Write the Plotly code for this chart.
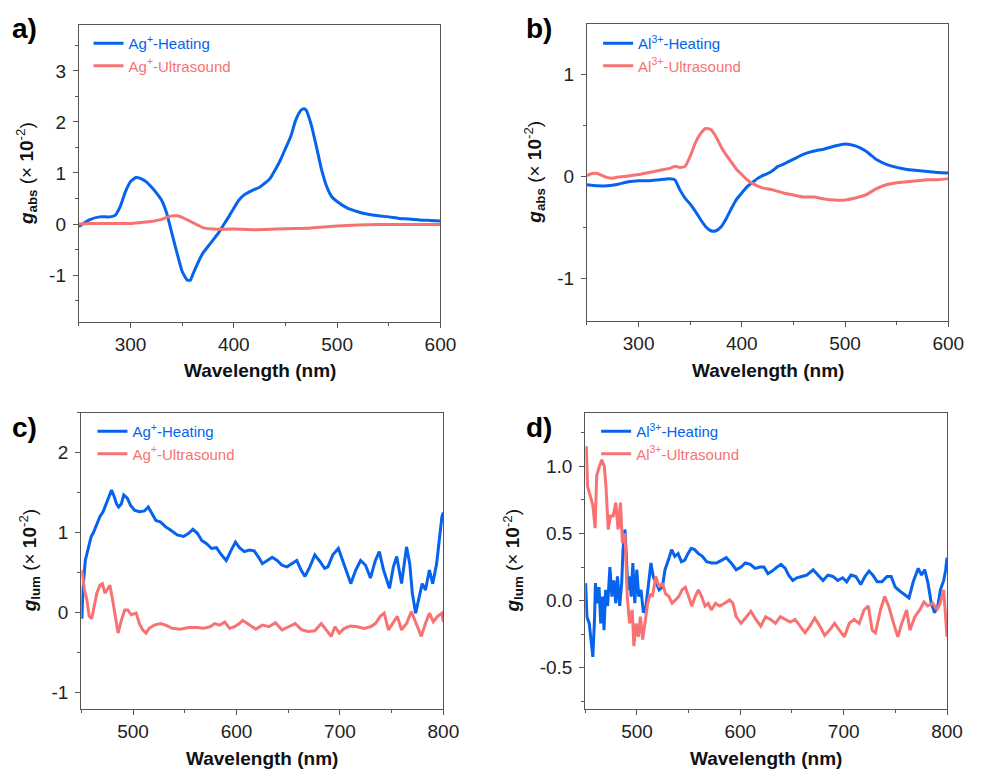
import plotly.graph_objects as go

# ---------------- data ----------------
# Panel a: g_abs, Ag+
a_wl_heat = [250,260,270,280,285,290,295,300,305,310,315,320,325,330,335,340,345,350,355,358,
             360,365,370,375,380,385,390,395,400,405,410,415,420,425,430,435,440,445,450,455,
             460,465,468,470,475,480,485,490,495,500,510,520,530,540,550,560,570,580,590,600]
a_heat = [-0.05,0.08,0.14,0.14,0.17,0.34,0.63,0.83,0.91,0.89,0.83,0.73,0.61,0.47,0.21,-0.18,-0.57,-0.93,-1.10,-1.10,
          -1.0,-0.77,-0.57,-0.44,-0.31,-0.18,-0.02,0.14,0.31,0.47,0.57,0.63,0.68,0.72,0.80,0.89,1.06,1.25,1.48,1.71,
          2.04,2.23,2.26,2.23,1.94,1.51,1.06,0.73,0.53,0.44,0.31,0.24,0.19,0.16,0.14,0.11,0.10,0.08,0.07,0.06]
a_wl_us = [250,260,270,280,290,300,310,320,330,335,340,345,350,355,360,365,370,375,380,400,
           420,440,460,470,480,500,520,540,560,580,600]
a_us = [0.0,0.01,0.01,0.01,0.01,0.01,0.03,0.05,0.09,0.13,0.16,0.16,0.13,0.08,0.03,-0.02,-0.07,-0.09,-0.10,-0.10,
        -0.11,-0.10,-0.09,-0.085,-0.07,-0.04,-0.02,-0.01,-0.01,-0.01,-0.01]

# Panel b: g_abs, Al3+
b_wl_heat = [250,260,270,280,290,300,310,320,330,335,340,345,350,355,360,365,370,375,380,385,
             390,395,400,405,410,415,420,425,430,435,440,450,460,470,480,490,500,510,520,530,
             540,550,560,570,580,590,600]
b_heat = [-0.08,-0.09,-0.09,-0.075,-0.05,-0.04,-0.04,-0.03,-0.02,-0.03,-0.13,-0.21,-0.27,-0.34,-0.42,-0.49,-0.53,-0.53,-0.49,-0.41,
          -0.31,-0.22,-0.16,-0.10,-0.06,-0.02,0.01,0.03,0.06,0.10,0.12,0.17,0.22,0.25,0.27,0.30,0.32,0.30,0.25,0.17,
          0.12,0.09,0.07,0.06,0.05,0.04,0.035]
b_wl_us = [250,255,260,265,270,275,280,290,300,310,320,330,335,340,345,350,355,360,365,370,
           375,380,385,390,395,400,405,410,415,420,430,440,450,460,470,480,490,500,510,520,
           530,540,550,560,570,580,590,600]
b_us = [0.01,0.03,0.03,0.01,-0.01,-0.015,-0.005,0.005,0.02,0.04,0.06,0.08,0.10,0.09,0.10,0.20,0.33,0.42,0.47,0.46,
        0.39,0.29,0.21,0.14,0.07,0.02,-0.03,-0.065,-0.09,-0.11,-0.13,-0.16,-0.18,-0.20,-0.20,-0.22,-0.23,-0.23,-0.21,-0.18,
        -0.12,-0.08,-0.06,-0.05,-0.04,-0.03,-0.03,-0.02]

# Panel c: g_lum, Ag+
c_wl_heat = [450.5,451.5,453.8,457.0,459.5,461.7,464.9,468.0,471.0,474.4,476.6,479.2,481.7,484.0,486.0,488.7,491.0,494.4,497.6,501.4,
             506.0,511.0,514.7,517.8,522.0,526.7,531.5,536.2,542.6,548.9,553.7,557.8,562.2,566.4,571.1,575.9,580.6,585.4,590.1,594.9,
             599.0,602.8,607.6,612.4,617.1,621.9,625.0,629.8,634.5,639.3,644.0,648.8,653.5,658.3,662.4,666.2,670.9,675.7,680.5,685.2,
             688.4,693.1,698.5,702.6,707.4,710.5,715.3,720.0,724.8,729.5,734.3,738.1,742.2,747.9,751.7,754.9,759.6,764.4,767.5,770.0,
             773.2,776.4,779.5,782.7,786.5,789.7,793.5,796.0,798.6,800.0]
c_heat = [-0.08,0.28,0.65,0.82,0.95,1.00,1.11,1.20,1.26,1.38,1.45,1.53,1.45,1.36,1.32,1.36,1.47,1.43,1.34,1.28,
          1.26,1.27,1.32,1.24,1.15,1.13,1.07,1.03,0.97,0.95,0.99,1.04,0.99,0.90,0.86,0.80,0.81,0.72,0.65,0.78,
          0.88,0.81,0.76,0.78,0.77,0.68,0.61,0.65,0.69,0.65,0.59,0.57,0.61,0.65,0.53,0.45,0.57,0.72,0.64,0.55,
          0.57,0.72,0.80,0.65,0.49,0.36,0.53,0.65,0.59,0.43,0.65,0.76,0.53,0.30,0.57,0.70,0.36,0.82,0.61,0.24,
          -0.01,0.20,0.36,0.28,0.53,0.36,0.61,0.90,1.20,1.25]
c_wl_us = [450.5,453.0,455.4,457.6,460.0,462.7,465.0,468.0,470.3,472.8,475.4,477.6,480.8,484.0,485.5,488.7,491.9,495.0,498.2,503.0,
           506.0,509.3,512.5,515.6,520.4,526.7,531.5,537.8,545.7,553.7,561.6,568.0,574.3,579.0,583.8,588.6,593.3,598.1,602.8,606.0,
           612.4,618.7,625.0,631.4,637.7,644.0,650.4,656.7,663.1,669.4,675.7,682.0,686.8,691.5,695.3,699.4,704.2,710.5,716.8,723.2,
           729.5,734.3,739.0,742.8,746.9,751.7,755.5,759.6,764.4,769.1,773.9,778.7,782.7,786.5,790.3,794.4,798.6,800.0]
c_us = [0.53,0.28,0.15,-0.05,-0.08,0.11,0.24,0.34,0.36,0.24,0.30,0.34,0.11,-0.14,-0.26,-0.10,0.03,0.03,-0.03,-0.01,
        -0.14,-0.22,-0.26,-0.20,-0.16,-0.14,-0.16,-0.20,-0.21,-0.19,-0.19,-0.20,-0.18,-0.14,-0.16,-0.12,-0.20,-0.18,-0.14,-0.10,
        -0.16,-0.21,-0.16,-0.18,-0.13,-0.22,-0.18,-0.14,-0.22,-0.24,-0.23,-0.14,-0.22,-0.30,-0.18,-0.26,-0.20,-0.17,-0.18,-0.20,
        -0.18,-0.14,-0.05,-0.01,-0.22,-0.12,-0.05,-0.22,-0.14,0.01,-0.14,-0.30,-0.14,-0.01,-0.12,-0.05,-0.01,-0.12]

# Panel d: g_lum, Al3+
d_wl_heat = [450.3,451.6,453.8,455.7,457.3,458.9,459.8,461.7,463.3,464.9,466.8,468.1,469.7,471.6,473.8,475.7,477.6,479.5,481.1,483.3,
             485.2,486.5,488.4,489.7,491.2,492.8,494.4,496.0,497.9,499.8,501.7,503.9,506.2,508.7,511.2,513.5,515.7,518.2,521.4,524.6,
             527.1,530.3,533.5,536.6,539.8,543.0,546.1,549.3,552.5,555.7,559.5,563.3,567.4,572.2,576.9,581.7,586.4,591.2,596.0,600.7,
             604.8,609.6,614.3,619.1,622.9,626.7,630.8,635.6,639.4,643.5,646.7,650.8,654.7,659.4,664.2,670.5,675.2,680.0,684.8,689.5,
             694.3,699.0,702.9,707.0,711.8,716.5,720.6,724.5,728.3,732.4,737.1,741.9,746.0,749.9,754.6,759.4,763.2,767.3,772.1,775.3,
             778.4,781.6,784.8,788.0,791.1,793.6,796.8,798.7,800.0]
d_heat = [0.13,-0.12,-0.17,-0.32,-0.42,-0.14,0.13,-0.02,0.10,-0.17,0.03,-0.22,0.08,-0.04,0.25,0.03,0.15,-0.02,0.18,-0.04,
          0.13,0.38,0.53,0.33,0.08,0.18,0.03,0.28,-0.02,0.23,0.03,0.08,-0.09,-0.04,0.13,0.28,0.18,0.13,0.08,0.10,
          0.23,0.30,0.38,0.33,0.35,0.29,0.30,0.35,0.39,0.38,0.35,0.33,0.29,0.28,0.28,0.30,0.32,0.28,0.23,0.25,
          0.28,0.27,0.24,0.25,0.25,0.20,0.22,0.25,0.27,0.24,0.19,0.15,0.17,0.18,0.19,0.23,0.19,0.15,0.19,0.18,
          0.15,0.17,0.14,0.19,0.18,0.12,0.18,0.22,0.19,0.14,0.14,0.18,0.18,0.10,0.07,0.04,0.02,0.14,0.24,0.19,
          0.23,0.13,-0.02,-0.09,-0.04,0.08,0.15,0.23,0.32]
d_wl_us = [451.0,452.2,454.8,457.3,459.5,461.0,463.6,465.9,468.4,470.0,472.2,474.4,477.0,479.5,481.7,484.0,485.9,488.4,490.6,492.8,
           495.4,497.0,499.2,501.4,503.3,505.5,507.7,510.3,512.8,515.0,518.2,521.4,524.6,527.7,530.9,534.0,537.3,540.4,543.6,546.8,
           550.0,553.0,556.3,559.4,562.6,565.8,569.0,572.0,576.0,580.0,584.8,589.6,592.8,596.0,600.7,605.5,610.2,615.0,619.8,624.5,
           629.3,634.0,638.8,643.5,648.3,653.0,657.8,662.6,667.3,672.0,676.9,681.6,686.4,691.2,695.9,700.7,705.4,710.2,715.0,719.7,
           723.8,727.6,730.8,735.6,739.7,743.5,748.3,752.4,756.2,760.9,764.1,768.9,773.6,777.7,781.5,786.3,790.4,793.4,796.8,798.4,
           800.0]
d_us = [1.15,0.85,0.78,0.71,0.54,0.93,1.00,1.05,1.00,0.85,0.53,0.63,0.63,0.73,0.53,0.73,0.43,0.50,0.03,-0.17,
        -0.07,-0.34,-0.17,-0.27,-0.12,-0.29,-0.17,-0.02,0.05,0.03,0.18,0.10,0.13,0.05,0.03,-0.02,0.005,0.03,0.08,0.10,
        0.03,-0.04,0.03,0.08,0.03,-0.04,-0.02,-0.07,-0.02,-0.04,-0.02,0.005,-0.02,-0.12,-0.17,-0.12,-0.08,-0.14,-0.19,-0.12,
        -0.14,-0.17,-0.12,-0.14,-0.16,-0.14,-0.19,-0.24,-0.19,-0.13,-0.19,-0.26,-0.22,-0.17,-0.22,-0.27,-0.17,-0.14,-0.17,-0.07,
        -0.04,-0.22,-0.24,-0.07,0.03,-0.04,-0.17,-0.27,-0.17,-0.07,-0.22,-0.12,-0.07,-0.01,-0.04,-0.02,-0.07,-0.02,0.08,-0.07,
        -0.27]

x_ticks_abs = [300, 400, 500, 600]
x_ticks_lum = [500, 600, 700, 800]
a_yticks = [-1, 0, 1, 2, 3]
b_yticks = [-1, 0, 1]
c_yticks = [-1, 0, 1, 2]
d_yticks = [-0.5, 0.0, 0.5, 1.0]
d_yticktext = ["-0.5", "0.0", "0.5", "1.0"]

BLUE = "#0563EE"
RED = "#F87272"
FONT = "Liberation Sans, Arial, sans-serif"

fig = go.Figure()

def lbl(color, ion, sup, method):
    return f'<span style="color:{color}">{ion}<sup>{sup}</sup>-{method}</span>'

panels = [
    ("x", "y", "legend", a_wl_heat, a_heat, a_wl_us, a_us, "Ag", "+", "spline"),
    ("x2", "y2", "legend2", b_wl_heat, b_heat, b_wl_us, b_us, "Al", "3+", "spline"),
    ("x3", "y3", "legend3", c_wl_heat, c_heat, c_wl_us, c_us, "Ag", "+", "linear"),
    ("x4", "y4", "legend4", d_wl_heat, d_heat, d_wl_us, d_us, "Al", "3+", "linear"),
]
for xa, ya, lg, xh, yh, xu, yu, ion, sup, shape in panels:
    fig.add_trace(go.Scatter(x=xh, y=yh, xaxis=xa, yaxis=ya, mode="lines", legend=lg,
                             line=dict(color=BLUE, width=3, shape=shape, smoothing=0.5),
                             name=lbl(BLUE, ion, sup, "Heating")))
    fig.add_trace(go.Scatter(x=xu, y=yu, xaxis=xa, yaxis=ya, mode="lines", legend=lg,
                             line=dict(color=RED, width=3, shape=shape, smoothing=0.5),
                             name=lbl(RED, ion, sup, "Ultrasound")))

W, H = 982, 769
def fx(px): return px / W
def fy(py): return 1 - py / H

axis_common = dict(showline=True, linecolor="#555", linewidth=1.2, mirror=True,
                   ticks="outside", ticklen=5, tickwidth=1.2, tickcolor="#555",
                   showgrid=False, zeroline=False,
                   tickfont=dict(family=FONT, size=19, color="#222"))

boxes = {
    "a": (80.2, 447.7, 25.0, 322.0),
    "b": (596.7, 964.0, 24.3, 320.7),
    "c": (82.7, 450.7, 412.7, 709.0),
    "d": (595.0, 962.7, 412.7, 709.3),
}

def xax(box, rng, ticks, anchor):
    x0, x1, y0, y1 = box
    return dict(axis_common, domain=[fx(x0), fx(x1)], range=rng, anchor=anchor,
                ticklabelstandoff=0,
                tickmode="array", tickvals=ticks, ticktext=[str(t) for t in ticks],
                minor=dict(ticks="outside", ticklen=3, tickwidth=1, tickcolor="#555", dtick=50, tick0=0))

def yax(box, rng, ticks, ttext, mdt, anchor):
    x0, x1, y0, y1 = box
    return dict(axis_common, domain=[fy(y1), fy(y0)], range=rng, anchor=anchor,
                ticklabelstandoff=3,
                tickmode="array", tickvals=ticks, ticktext=ttext,
                minor=dict(ticks="outside", ticklen=3, tickwidth=1, tickcolor="#555", dtick=mdt, tick0=0))

fig.update_layout(
    xaxis=xax(boxes["a"], [250, 600], x_ticks_abs, "y"),
    yaxis=yax(boxes["a"], [-1.92, 3.9], a_yticks, [str(t) for t in a_yticks], 0.5, "x"),
    xaxis2=xax(boxes["b"], [250, 600], x_ticks_abs, "y2"),
    yaxis2=yax(boxes["b"], [-1.41, 1.49], b_yticks, [str(t) for t in b_yticks], 0.5, "x2"),
    xaxis3=xax(boxes["c"], [450, 800], x_ticks_lum, "y3"),
    yaxis3=yax(boxes["c"], [-1.21, 2.5], c_yticks, [str(t) for t in c_yticks], 0.5, "x3"),
    xaxis4=xax(boxes["d"], [450, 800], x_ticks_lum, "y4"),
    yaxis4=yax(boxes["d"], [-0.81, 1.40], d_yticks, d_yticktext, 0.25, "x4"),
)

leg_common = dict(xanchor="left", yanchor="top", bgcolor="rgba(0,0,0,0)",
                  font=dict(family=FONT, size=15), itemwidth=30, tracegroupgap=0,
                  borderwidth=0)
fig.update_layout(
    legend=dict(leg_common, x=fx(90), y=fy(27)),
    legend2=dict(leg_common, x=fx(608), y=fy(27)),
    legend3=dict(leg_common, x=fx(94), y=fy(415)),
    legend4=dict(leg_common, x=fx(606), y=fy(415)),
)

ann = []
# panel letters
for txt, px, py in [("a)", 10, 28), ("b)", 533, 28), ("c)", 10, 427), ("d)", 533, 427)]:
    ann.append(dict(text=f"<b>{txt}</b>", x=fx(px), y=fy(py), xref="paper", yref="paper",
                    xanchor="left", yanchor="middle", showarrow=False,
                    font=dict(family=FONT, size=28, color="#000")))
# x titles
for key, py in [("a", 370), ("b", 370), ("c", 758), ("d", 758)]:
    x0, x1, y0, y1 = boxes[key]
    ann.append(dict(text="<b>Wavelength (nm)</b>", x=fx((x0 + x1) / 2), y=fy(py),
                    xref="paper", yref="paper", xanchor="center", yanchor="middle",
                    showarrow=False, font=dict(family=FONT, size=19, color="#111")))
# y titles
for key, px, sub in [("a", 27, "abs"), ("b", 543, "abs"), ("c", 30, "lum"), ("d", 521, "lum")]:
    x0, x1, y0, y1 = boxes[key]
    ann.append(dict(text=f"<b><i>g</i><sub>{sub}</sub></b> (× <b>10</b><sup>-2</sup>)",
                    x=fx(px), y=fy((y0 + y1) / 2), xref="paper", yref="paper",
                    xanchor="center", yanchor="middle", textangle=-90, showarrow=False,
                    font=dict(family=FONT, size=19, color="#111")))

fig.update_layout(
    annotations=ann,
    width=W, height=H,
    margin=dict(l=0, r=0, t=0, b=0),
    paper_bgcolor="white", plot_bgcolor="white",
    font=dict(family=FONT, color="#222"),
)

fig.write_html("out.html")
